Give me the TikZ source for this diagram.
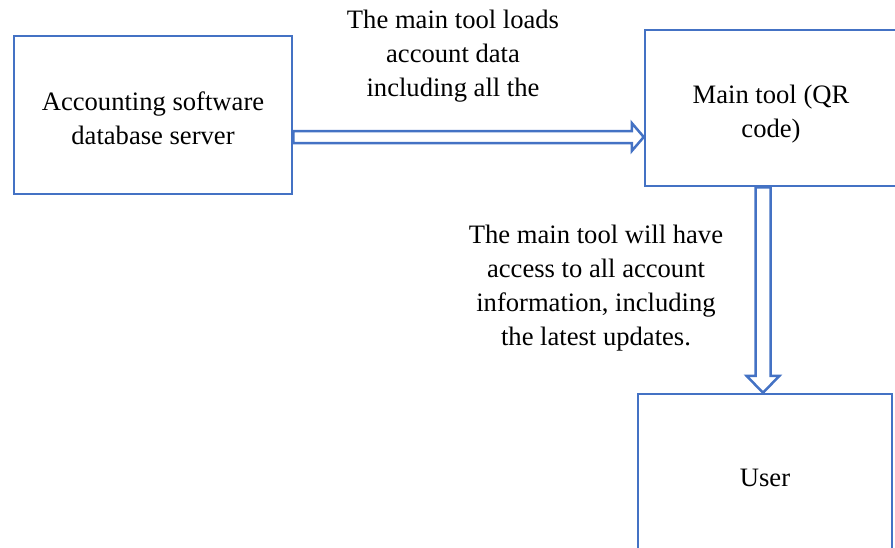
\documentclass[tikz,border=0pt]{standalone}
\usepackage{fontspec}
\setmainfont{Liberation Serif}
\usetikzlibrary{calc}
\definecolor{boxblue}{HTML}{4472C4}
\tikzset{
  box/.style={draw=boxblue, line width=2.5pt, inner sep=0pt},
  note/.style={align=center, font=\fontsize{26.6}{34}\selectfont},
  flow/.style={draw=boxblue, line width=2.5pt, fill=white, line join=miter}
}
\begin{document}
\begin{tikzpicture}[x=1pt,y=-1pt]
  \useasboundingbox (0,0) rectangle (895,547);
  % the three boxes
  \node[box, minimum width=278pt, minimum height=158pt] (db) at (153,115) {};
  \node[box, minimum width=252pt, minimum height=156pt] (main) at (771,108) {};
  \node[box, minimum width=254pt, minimum height=158pt] (user) at (765,473) {};
  \node[note] (dbtext) at ($(db)+(0,3)$) {Accounting software\\database server};
  \node[note] (maintext) at ($(main)+(0,6)$) {Main tool (QR\\code)};
  \node[note] (usertext) at ($(user)+(0,5)$) {User};
  % where the block arrows run
  \coordinate (row) at (0,137);
  \coordinate (col) at (763,0);
  \coordinate (t1) at (db.east |- row);
  \coordinate (h1) at (main.west |- row);
  \coordinate (t2) at (main.south -| col);
  \coordinate (h2) at (user.north -| col);
  \draw[flow] ($(t1)+(0,-6)$) -- ($(h1)+(-12,-6)$) -- ($(h1)+(-12,-14)$) -- (h1)
    -- ($(h1)+(-12,14)$) -- ($(h1)+(-12,6)$) -- ($(t1)+(0,6)$) -- cycle;
  \draw[flow] ($(t2)+(-7.5,0)$) -- ($(h2)+(-7.5,-17)$) -- ($(h2)+(-16.5,-17)$) -- (h2)
    -- ($(h2)+(16.5,-17)$) -- ($(h2)+(7.5,-17)$) -- ($(t2)+(7.5,0)$) -- cycle;
  % labels on the arrows
  \node[note] (loads) at (453,56) {The main tool loads\\account data\\including all the};
  \node[note] (access) at (596,288)
    {The main tool will have\\access to all account\\information, including\\the latest updates.};
\end{tikzpicture}
\end{document}
